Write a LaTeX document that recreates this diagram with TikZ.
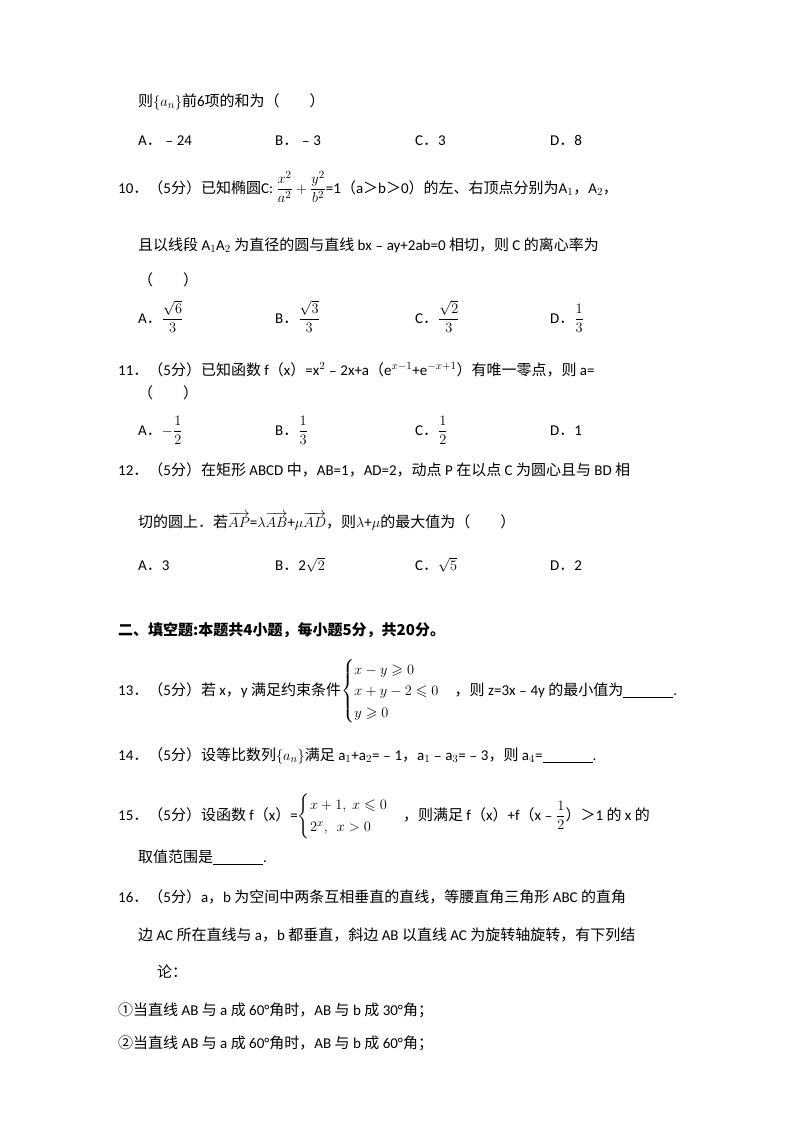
\documentclass[tikz,border=0pt]{standalone}
\usepackage{amsmath,amssymb}
\usepackage{fontspec}
\setmainfont{Carlito}
\newfontfamily\zhf{Noto Sans CJK SC}
\newcommand{\zh}[1]{{\zhf #1}}
\begin{document}
\begin{tikzpicture}[x=1pt,y=1pt,every node/.style={anchor=base west,inner sep=0pt,font=\fontsize{15}{18}\selectfont}]
\useasboundingbox[fill=white] (0,0) rectangle (800,-1132);
\node (l1) at (138,-106) {\zh{则}$\{a_n\}$\zh{前}6\zh{项的和为（\quad\quad）}};
\node (a9) at (138,-145) {A\zh{．}\zh{﹣}24};
\node (b9) at (275,-145) {B\zh{．}\zh{﹣}3};
\node (c9) at (415,-145) {C\zh{．}3};
\node (d9) at (550,-145) {D\zh{．}8};
\node (q10) at (118,-193) {10\zh{．（}5\zh{分）已知椭圆}C: $\dfrac{x^2}{a^2}+\dfrac{y^2}{b^2}$=1\zh{（}a\zh{＞}b\zh{＞}0\zh{）的左、右顶点分别为}A$_1$\zh{，}A$_2$\zh{，}};
\node (q10b) at (138,-250) {\zh{且以线段} A$_1$A$_2$ \zh{为直径的圆与直线} bx\zh{﹣}ay+2ab=0 \zh{相切，则} C \zh{的离心率为}};
\node (q10c) at (138,-285) {\zh{（\quad\quad）}};
\node (a10) at (138,-323) {A\zh{．}$\dfrac{\sqrt6}{3}$};
\node (b10) at (275,-323) {B\zh{．}$\dfrac{\sqrt3}{3}$};
\node (c10) at (415,-323) {C\zh{．}$\dfrac{\sqrt2}{3}$};
\node (d10) at (550,-323) {D\zh{．}$\dfrac{1}{3}$};
\node (q11) at (118,-375) {11\zh{．（}5\zh{分）已知函数} f\zh{（}x\zh{）}=x$^2$\zh{﹣}2x+a\zh{（}e$^{x-1}$+e$^{-x+1}$\zh{）有唯一零点，则} a=};
\node (q11b) at (138,-398) {\zh{（\quad\quad）}};
\node (a11) at (138,-435) {A\zh{．}$-\dfrac{1}{2}$};
\node (b11) at (275,-435) {B\zh{．}$\dfrac{1}{3}$};
\node (c11) at (415,-435) {C\zh{．}$\dfrac{1}{2}$};
\node (d11) at (550,-435) {D\zh{．}1};
\node (q12) at (118,-475) {12\zh{．（}5\zh{分）在矩形} ABCD \zh{中，}AB=1\zh{，}AD=2\zh{，动点} P \zh{在以点} C \zh{为圆心且与} BD \zh{相}};
\node (q12b) at (138,-527) {\zh{切的圆上．若}$\overrightarrow{AP}$=$\lambda\overrightarrow{AB}$+$\mu\overrightarrow{AD}$\zh{，则}$\lambda$+$\mu$\zh{的最大值为（\quad\quad）}};
\node (a12) at (138,-570) {A\zh{．}3};
\node (b12) at (275,-570) {B\zh{．}2$\sqrt2$};
\node (c12) at (415,-570) {C\zh{．}$\sqrt5$};
\node (d12) at (550,-570) {D\zh{．}2};
\node (h2) at (118,-635) {\zhf\bfseries 二、填空题:本题共4小题，每小题5分，共20分。};
\node (q13) at (118,-695) {13\zh{．（}5\zh{分）若} x\zh{，}y \zh{满足约束条件}$\begin{cases}x-y\geqslant0\\ x+y-2\leqslant0\\ y\geqslant0\end{cases}$\zh{，则} z=3x\zh{﹣}4y \zh{的最小值为}\underline{\hspace{50pt}}.};
\node (q14) at (118,-760) {14\zh{．（}5\zh{分）设等比数列}$\{a_n\}$\zh{满足} a$_1$+a$_2$=\zh{﹣}1\zh{，}a$_1$\zh{﹣}a$_3$=\zh{﹣}3\zh{，则} a$_4$=\underline{\hspace{50pt}}.};
\node (q15) at (118,-820) {15\zh{．（}5\zh{分）设函数} f\zh{（}x\zh{）}=$\begin{cases}x+1,\ x\leqslant0\\ 2^x,\ \ x>0\end{cases}$\zh{，则满足} f\zh{（}x\zh{）}+f\zh{（}x\zh{﹣}$\dfrac12$\zh{）＞}1 \zh{的} x \zh{的}};
\node (q15b) at (138,-862) {\zh{取值范围是}\underline{\hspace{50pt}}.};
\node (q16) at (118,-902) {16\zh{．（}5\zh{分）}a\zh{，}b \zh{为空间中两条互相垂直的直线，等腰直角三角形} ABC \zh{的直角}};
\node (q16b) at (138,-940) {\zh{边} AC \zh{所在直线与} a\zh{，}b \zh{都垂直，斜边} AB \zh{以直线} AC \zh{为旋转轴旋转，有下列结}};
\node (q16c) at (157,-977) {\zh{论：}};
\node (s1) at (118,-1015) {\zh{①当直线} AB \zh{与} a \zh{成} 60°\zh{角时，}AB \zh{与} b \zh{成} 30°\zh{角；}};
\node (s2) at (118,-1048) {\zh{②当直线} AB \zh{与} a \zh{成} 60°\zh{角时，}AB \zh{与} b \zh{成} 60°\zh{角；}};
\end{tikzpicture}
\end{document}
